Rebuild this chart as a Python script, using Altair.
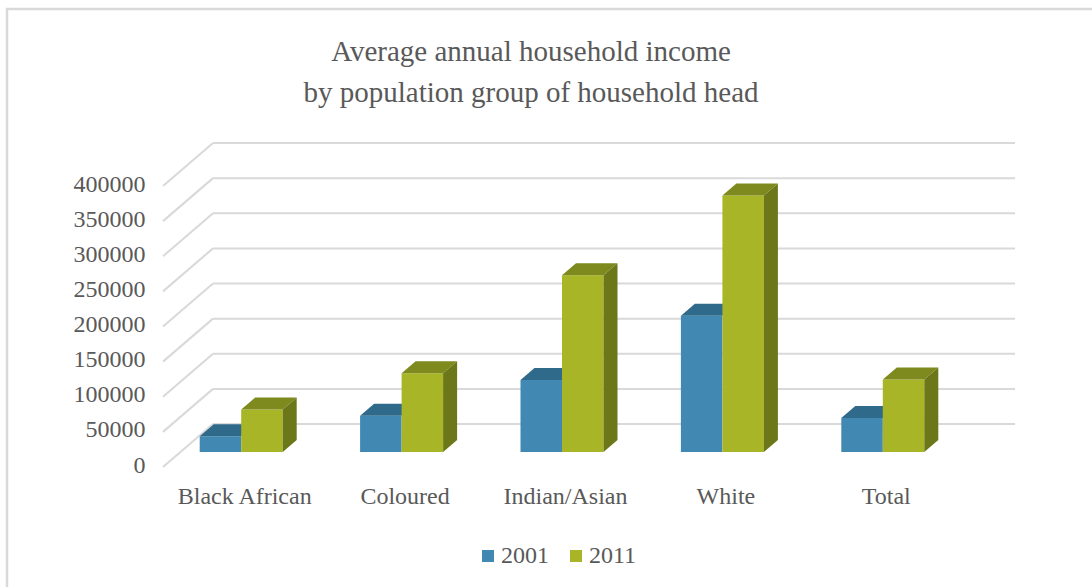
import json
import altair as alt
import pandas as pd

# ---------------- data ----------------
categories = ["Black African", "Coloured", "Indian/Asian", "White", "Total"]
years = ["2001", "2011"]
income_2001 = [22522, 51440, 102606, 193820, 48385]
income_2011 = [60613, 112172, 251541, 365134, 103204]
y_ticks = [0, 50000, 100000, 150000, 200000, 250000, 300000, 350000, 400000]

title_lines = ["Average  annual household income", "by population group of household head"]

# ---------------- layout / style ----------------
FONT = "Liberation Serif"
GRAY = "#595959"
GRID = "#D9D9D9"
BLUE, BLUE_TOP = "#4189B3", "#2F6A8B"
GREEN, GREEN_TOP, GREEN_SIDE = "#A8B526", "#7E8A1D", "#6B7719"

W, H = 802, 281
PAD_L, PAD_T = 161, 171
PAD_R = 1092 - W - PAD_L
PAD_B = 587 - H - PAD_T
X_DOMAIN = [-0.5, 4.5]
Y_DOMAIN = [0, 400000]
UNIT_X = W / (X_DOMAIN[1] - X_DOMAIN[0])
UNIT_Y = H / (Y_DOMAIN[1] - Y_DOMAIN[0])
BAR_W = 41.5 / UNIT_X
DEPTH_X = 14 / UNIT_X
DEPTH_Y = 12 / UNIT_Y

xs = alt.Scale(domain=X_DOMAIN, nice=False, zero=False)
ys = alt.Scale(domain=Y_DOMAIN, nice=False, zero=False)

x_axis = alt.Axis(values=list(range(len(categories))),
                  labelExpr=json.dumps(categories) + "[datum.value]",
                  labelFont=FONT, labelFontSize=24, labelColor=GRAY,
                  labelPadding=32, labelOffset=3, labelAngle=0,
                  labelOverlap=False, labelFlush=False,
                  domain=False, ticks=False, grid=False, title=None)
y_axis = alt.Axis(values=y_ticks, format="d",
                  labelFont=FONT, labelFontSize=24, labelColor=GRAY,
                  labelPadding=16, labelOffset=13, labelFlush=False,
                  labelOverlap=False,
                  domain=False, ticks=False, grid=False, title=None)

# ---------------- derived geometry tables ----------------
front_rows, top_rows, side_rows = [], [], []
for i, cat in enumerate(categories):
    for j, (yr, vals) in enumerate(zip(years, [income_2001, income_2011])):
        v = vals[i]
        x0 = i - BAR_W + j * BAR_W
        x1 = x0 + BAR_W
        key = f"{cat}-{yr}"
        front_rows.append(dict(cat=cat, year=yr, x0=x0, x1=x1, v=v))
        top_rows.append(dict(key=key, year=yr, ty=v, tx0=x0, tx1=x1))
        top_rows.append(dict(key=key, year=yr, ty=v + DEPTH_Y, tx0=x0 + DEPTH_X, tx1=x1 + DEPTH_X))
        side_rows.append(dict(key=key, year=yr, sx=x1, sy0=0, sy1=v))
        side_rows.append(dict(key=key, year=yr, sx=x1 + DEPTH_X, sy0=DEPTH_Y, sy1=v + DEPTH_Y))

front = pd.DataFrame(front_rows)
top = pd.DataFrame(top_rows)
side = pd.DataFrame(side_rows)
grid = pd.DataFrame({"v": y_ticks, "xa": X_DOMAIN[0], "xb": X_DOMAIN[1]})

color = alt.Color("year:N", scale=alt.Scale(domain=years, range=[BLUE, GREEN]),
                  legend=alt.Legend(orient="none", legendX=315, legendY=373,
                                    direction="horizontal", title=None,
                                    symbolType="square", symbolSize=144,
                                    symbolStrokeWidth=0,
                                    labelFont=FONT, labelFontSize=24, labelColor=GRAY,
                                    labelOffset=1, columnPadding=15, padding=0))

one = pd.DataFrame({"a": [0]})

frame = alt.Chart(one).mark_rect(
    filled=False, stroke=GRID, strokeWidth=2.5
).encode(x=alt.value(7 - PAD_L), x2=alt.value(1100 - PAD_L),
         y=alt.value(9 - PAD_T), y2=alt.value(600 - PAD_T))

title = alt.Chart(one).mark_text(
    font=FONT, fontSize=29, color=GRAY, align="center", baseline="middle",
    lineHeight=41
).encode(x=alt.value(531 - PAD_L), y=alt.value(52 - PAD_T),
         text=alt.value(title_lines))

back_grid = alt.Chart(grid).mark_rule(
    color=GRID, strokeWidth=2, xOffset=52, x2Offset=52, yOffset=-28
).encode(x=alt.X("xa:Q", scale=xs, axis=x_axis),
         x2="xb:Q",
         y=alt.Y("v:Q", scale=ys, axis=y_axis))

diag = alt.Chart(grid).mark_rule(
    color=GRID, strokeWidth=2, xOffset=2, x2Offset=52, yOffset=15, y2Offset=-28
).encode(x=alt.X("xa:Q", scale=xs, axis=x_axis),
         x2="xa:Q",
         y=alt.Y("v:Q", scale=ys, axis=y_axis),
         y2="v:Q")


def front_layer(yr):
    return alt.Chart(front[front.year == yr]).mark_rect().encode(
        x=alt.X("x0:Q", scale=xs, axis=x_axis), x2="x1:Q",
        y=alt.Y("v:Q", scale=ys, axis=y_axis), y2=alt.datum(0),
        color=color)


def top_layer(yr, col):
    return alt.Chart(top[top.year == yr]).mark_area(orient="horizontal", color=col).encode(
        y=alt.Y("ty:Q", scale=ys, axis=y_axis),
        x=alt.X("tx0:Q", scale=xs, axis=x_axis), x2="tx1:Q",
        detail="key:N")


side_green = alt.Chart(side[side.year == "2011"]).mark_area(color=GREEN_SIDE).encode(
    x=alt.X("sx:Q", scale=xs, axis=x_axis),
    y=alt.Y("sy0:Q", scale=ys, axis=y_axis), y2="sy1:Q",
    detail="key:N")

chart = alt.layer(
    frame, title, back_grid, diag,
    front_layer("2001"), top_layer("2001", BLUE_TOP),
    front_layer("2011"), top_layer("2011", GREEN_TOP),
    side_green,
).properties(
    width=W, height=H,
    padding={"left": PAD_L, "top": PAD_T, "right": PAD_R, "bottom": PAD_B},
    autosize=alt.AutoSizeParams(type="none"),
    background="white",
).configure_view(strokeWidth=0)

chart.save("out.html", embed_options={"renderer": "svg", "actions": False})
